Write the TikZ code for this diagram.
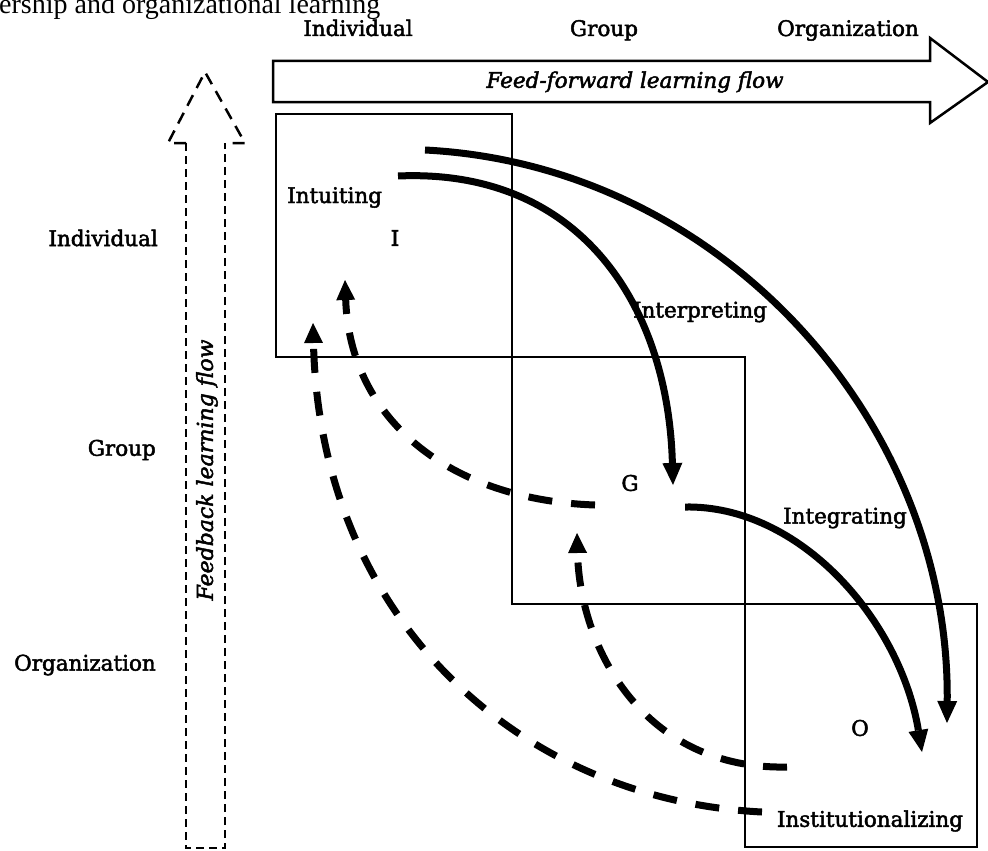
\documentclass[tikz,border=0pt]{standalone}
\usepackage{fontspec}
\setmainfont{DejaVu Serif}[FakeBold=2.2]
\newfontfamily\capfont{Liberation Serif}
\usetikzlibrary{arrows.meta}
\begin{document}
\begin{tikzpicture}[x=1pt,y=-1pt,
  lbl/.style={font=\fontsize{21.5}{24}\selectfont, inner sep=0pt},
  boxst/.style={draw, line width=2pt, inner sep=0pt},
  flow/.style={line width=7pt, -{Triangle[length=22pt,width=20pt,line width=0pt]}},
  back/.style={line width=7pt, dash pattern=on 24pt off 19pt, -{Triangle[length=20pt,width=19pt,line width=0pt]}},
  fbbody/.style={line width=2.5pt, dash pattern=on 8pt off 5pt},
  fbhead/.style={line width=2.5pt, dash pattern=on 12pt off 8pt},
]
\useasboundingbox (0,0) rectangle (988,851);
% caption fragment
\node[anchor=base west, inner sep=0pt, font=\capfont\fontsize{28}{28}\selectfont] (cap) at (-1,14) {ership and organizational learning};
% column headers
\node[lbl, anchor=base] (cI) at (358,36) {Individual};
\node[lbl, anchor=base] (cG) at (604,36) {Group};
\node[lbl, anchor=base] (cO) at (848,36) {Organization};
% row labels
\node[lbl, anchor=east] (rI) at (158,238) {Individual};
\node[lbl, anchor=east] (rG) at (156,450) {Group};
\node[lbl, anchor=east] (rO) at (156,665) {Organization};
% feed-forward arrow
\draw[line width=2.5pt, line join=miter] (273,61) -- (930,61) -- (930,38) -- (988,82) -- (930,123) -- (930,102) -- (273,102) -- cycle;
\node[lbl, font=\fontsize{21.5}{24}\selectfont\itshape] (ff) at (635,82) {Feed-forward learning flow};
% feedback arrow
\draw[fbbody] (186,143) -- (186,848) -- (225,848) -- (225,143);
\draw[fbhead] (186,143) -- (168,143) -- (205,72) -- (245,143) -- (225,143);
\node[lbl, font=\fontsize{22}{24}\selectfont\itshape, rotate=90] (fb) at (207,470) {Feedback learning flow};
% boxes
\node[boxst, minimum width=236pt, minimum height=243pt] (boxI) at (394,235.5) {};
\node[boxst, minimum width=233pt, minimum height=247pt] (boxG) at (628.5,480.5) {};
\node[boxst, minimum width=232pt, minimum height=243pt] (boxO) at (861,725.5) {};
% labels
\node[lbl, anchor=base west] (intu) at (287,203) {Intuiting};
\node[lbl] (I) at (395,238) {I};
\node[lbl] (G) at (630,483) {G};
\node[lbl] (O) at (860,728) {O};
\node[lbl] (interp) at (700,312) {Interpreting};
\node[lbl] (integ) at (845,518) {Integrating};
\node[lbl] (inst) at (870,821) {Institutionalizing};
% endpoints
\coordinate (s1) at (398,176); \coordinate (e1) at (673,485);
\coordinate (s2) at (425,150); \coordinate (e2) at (947,723);
\coordinate (s3) at (685,507); \coordinate (e3) at (922,752);
\coordinate (s4) at (787,767); \coordinate (e4) at (577,533);
\coordinate (s5) at (762,812); \coordinate (e5) at (313,323);
\coordinate (s6) at (595,505); \coordinate (e6) at (345,280);
% solid feed-forward curves
\draw[flow] (s1) .. controls (580,168) and (668,305) .. (e1);
\draw[flow] (s2) .. controls (720,165) and (950,420) .. (e2);
\draw[flow] (s3) .. controls (800,505) and (900,620) .. (e3);
% dashed feedback curves
\draw[back] (s4) .. controls (645,770) and (580,650) .. (e4);
\draw[back] (s5) .. controls (520,800) and (320,620) .. (e5);
\draw[back] (s6) .. controls (450,500) and (350,420) .. (e6);
\end{tikzpicture}
\end{document}
